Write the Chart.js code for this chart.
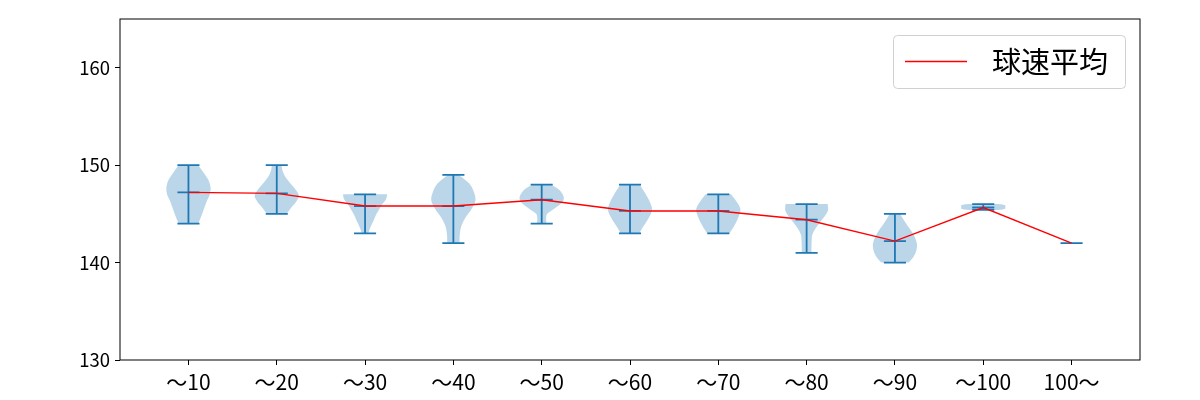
<!DOCTYPE html>
<html>
<head>
<meta charset="utf-8">
<script src="https://cdn.jsdelivr.net/npm/chart.js@4"></script>
<style>
  html, body { margin: 0; padding: 0; background: #fff; }
  #wrap { width: 1200px; height: 400px; }
</style>
</head>
<body>
<div id="wrap"><canvas id="speedChart" width="1200" height="400"></canvas></div>
<script>
// ===========================
// DATA
// ===========================
const categories = ['～10', '～20', '～30', '～40', '～50', '～60', '～70', '～80', '～90', '～100', '100～'];
const speedMin  = [144, 145, 143, 142, 144, 143, 143, 141, 140, 145.4, 142];
const speedMax  = [150, 150, 147, 149, 148, 148, 147, 146, 145, 146, 142];
const speedMean = [147.2, 147.1, 145.8, 145.8, 146.45, 145.3, 145.3, 144.4, 142.2, 145.65, 142.0];
// relative violin width, sampled evenly from min (first) to max (last)
const violinWidths = [
  [0.45, 0.58, 0.70, 0.82, 0.97, 1.00, 0.90, 0.68, 0.45],
  [0.45, 0.65, 0.88, 1.00, 0.85, 0.62, 0.40, 0.27, 0.22],
  [0.15, 0.22, 0.32, 0.42, 0.52, 0.65, 0.78, 0.95, 1.00],
  [0.28, 0.29, 0.36, 0.55, 0.82, 1.00, 0.93, 0.72, 0.25],
  [0.22, 0.20, 0.25, 0.55, 0.85, 1.00, 0.95, 0.78, 0.45],
  [0.42, 0.58, 0.76, 0.92, 1.00, 0.92, 0.78, 0.62, 0.45],
  [0.50, 0.65, 0.78, 0.88, 0.97, 1.00, 0.90, 0.75, 0.57],
  [0.22, 0.22, 0.23, 0.26, 0.40, 0.60, 0.82, 0.97, 0.95],
  [0.62, 0.85, 0.97, 1.00, 0.92, 0.78, 0.58, 0.40, 0.23],
  [0.70, 0.92, 1.00, 1.00, 1.00, 1.00, 1.00, 0.92, 0.70],
  [1, 1]
];
const yTicks = [130, 140, 150, 160];
const legendLabel = '球速平均';

const BLUE = '#1f77b4';
const RED = '#ff0000';
const FONT = "'Noto Sans CJK JP', 'Noto Sans', sans-serif";

// ===========================
// VIOLIN PLUGIN
// ===========================
function smoothPath(ctx, pts, moveFirst) {
  pts.forEach((p, i) => {
    if (i === 0) {
      if (moveFirst) ctx.moveTo(p.x, p.y); else ctx.lineTo(p.x, p.y);
      return;
    }
    const p0 = pts[i - 2] || pts[i - 1];
    const p1 = pts[i - 1];
    const p3 = pts[i + 1] || p;
    ctx.bezierCurveTo(
      p1.x + (p.x - p0.x) / 6, p1.y + (p.y - p0.y) / 6,
      p.x - (p3.x - p1.x) / 6, p.y - (p3.y - p1.y) / 6,
      p.x, p.y
    );
  });
}

const violinPlugin = {
  id: 'violins',
  beforeDatasetsDraw(chart) {
    const { ctx, scales: { x, y } } = chart;
    const half = 0.25;
    ctx.save();
    categories.forEach((c, i) => {
      const pos = i + 1;
      const prof = violinWidths[i];
      const lo = speedMin[i], hi = speedMax[i];
      if (hi > lo) {
        const n = prof.length;
        const right = prof.map((w, k) => ({
          x: x.getPixelForValue(pos + half * w),
          y: y.getPixelForValue(lo + (hi - lo) * k / (n - 1))
        }));
        const left = prof.map((w, k) => ({
          x: x.getPixelForValue(pos - half * w),
          y: y.getPixelForValue(lo + (hi - lo) * k / (n - 1))
        })).reverse();
        ctx.beginPath();
        smoothPath(ctx, right, true);
        smoothPath(ctx, left, false);
        ctx.closePath();
        ctx.fillStyle = 'rgba(31,119,180,0.3)';
        ctx.fill();
      }
      // bars, caps, mean
      ctx.strokeStyle = BLUE;
      ctx.lineWidth = 1.8;
      const px = x.getPixelForValue(pos);
      const x0 = x.getPixelForValue(pos - half / 2);
      const x1 = x.getPixelForValue(pos + half / 2);
      ctx.beginPath();
      ctx.moveTo(px, y.getPixelForValue(lo));
      ctx.lineTo(px, y.getPixelForValue(hi));
      [lo, hi, speedMean[i]].forEach(v => {
        ctx.moveTo(x0, y.getPixelForValue(v));
        ctx.lineTo(x1, y.getPixelForValue(v));
      });
      ctx.stroke();
    });
    ctx.restore();
  },
  afterDraw(chart) {
    const { ctx, chartArea: a } = chart;
    ctx.save();
    // plot frame
    ctx.strokeStyle = '#000';
    ctx.lineWidth = 1;
    ctx.strokeRect(a.left, a.top, a.right - a.left, a.bottom - a.top);

    // legend (top right, inside the plot)
    const ds = chart.data.datasets[0];
    const r = a.right - 15, t = a.top + 16, w = 232, h = 53;
    const cy = t + h / 2;
    ctx.fillStyle = 'rgba(255,255,255,0.8)';
    ctx.strokeStyle = '#d0d0d0';
    ctx.beginPath();
    ctx.roundRect(r - w + 0.5, t + 0.5, w, h, 4);
    ctx.fill();
    ctx.stroke();
    ctx.strokeStyle = ds.borderColor;
    ctx.lineWidth = ds.borderWidth;
    ctx.beginPath();
    ctx.moveTo(r - w + 12, cy);
    ctx.lineTo(r - w + 74, cy);
    ctx.stroke();
    ctx.fillStyle = '#000';
    ctx.font = '29px ' + FONT;
    ctx.textBaseline = 'middle';
    ctx.textAlign = 'left';
    ctx.fillText(ds.label, r - w + 99, cy);
    ctx.restore();
  }
};

// ===========================
// CHART
// ===========================
const ctx = document.getElementById('speedChart').getContext('2d');
new Chart(ctx, {
  type: 'scatter',
  data: {
    datasets: [{
      label: legendLabel,
      data: categories.map((c, i) => ({ x: i + 1, y: speedMean[i] })),
      showLine: true,
      borderColor: RED,
      backgroundColor: RED,
      borderWidth: 1.4,
      pointRadius: 0,
      tension: 0
    }]
  },
  options: {
    responsive: false,
    animation: false,
    layout: { padding: { left: 0, right: 60, top: 19, bottom: 0 } },
    plugins: {
      tooltip: { enabled: false },
      legend: { display: false }
    },
    scales: {
      x: {
        type: 'linear',
        min: 0.225,
        max: 11.775,
        afterBuildTicks: s => { s.ticks = categories.map((c, i) => ({ value: i + 1 })); },
        afterFit: s => { s.height = 40; },
        ticks: {
          callback: v => categories[v - 1],
          color: '#000',
          padding: 4,
          maxRotation: 0,
          autoSkip: false,
          font: { family: FONT, size: 21 }
        },
        grid: { drawOnChartArea: false, drawTicks: true, tickLength: 5, tickColor: '#000' },
        border: { display: false }
      },
      y: {
        min: 130,
        max: 165,
        afterBuildTicks: s => { s.ticks = yTicks.map(v => ({ value: v })); },
        afterFit: s => { s.width = 120; },
        ticks: {
          color: '#000',
          padding: 5,
          font: { family: FONT, size: 18.5 }
        },
        grid: { drawOnChartArea: false, drawTicks: true, tickLength: 5, tickColor: '#000' },
        border: { display: false }
      }
    }
  },
  plugins: [violinPlugin]
});
</script>
</body>
</html>
